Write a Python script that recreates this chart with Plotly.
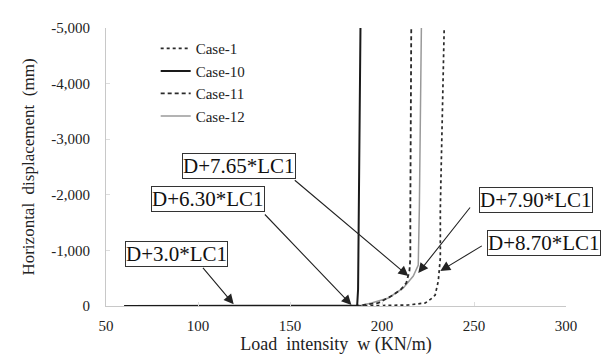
import plotly.graph_objects as go

# ---- data ----
case1_w = [60, 100, 150, 187.2, 214.3, 223.5, 227.3, 228.9, 230.6, 231.7, 231.7, 233.8]
case1_d = [0, 0, 0, 0, -18, -54, -144, -198, -450, -864, -1763, -5000]

case10_w = [60, 100, 150, 184.5, 186.5, 187.0, 187.6, 188.3]
case10_d = [0, 0, 0, 0, -10, -300, -2000, -5000]

case11_w = [60, 100, 150, 184.5, 189.9, 198.0, 205.1, 210.0, 213.2, 214.9, 215.4, 215.4, 215.9]
case11_d = [0, 0, 0, 0, -18, -54, -180, -288, -414, -630, -864, -1763, -5000]

case12_w = [60, 100, 150, 187.2, 194.3, 203.5, 211.6, 217.0, 219.7, 220.3, 221.4]
case12_d = [0, 0, 0, 0, -54, -144, -324, -540, -738, -1763, -5000]

x_ticks = [50, 100, 150, 200, 250, 300]
y_ticks = [0, -1000, -2000, -3000, -4000, -5000]
y_tick_labels = ["0", "-1,000", "-2,000", "-3,000", "-4,000", "-5,000"]

labels = ["D+3.0*LC1", "D+6.30*LC1", "D+7.65*LC1", "D+7.90*LC1", "D+8.70*LC1"]
label_w = [88.5, 105.5, 122.5, 283.5, 288.0]
label_d = [-944, -1916, -2519, -1907, -1133]
arrow_w = [119.4, 183.4, 214.3, 219.7, 231.7]
arrow_d = [-30, -18, -540, -594, -630]
arrow_ax = [-32, -88, -115, 53, 43]
arrow_ay = [-38, -92, -97, -67, -26]

FONT = "Liberation Serif, Times New Roman, serif"

fig = go.Figure()
fig.add_trace(go.Scatter(x=case12_w, y=case12_d, mode="lines", name="Case-12", legendrank=4,
                         line=dict(color="#9a9a9a", width=1.5)))
fig.add_trace(go.Scatter(x=case11_w, y=case11_d, mode="lines", name="Case-11", legendrank=3,
                         line=dict(color="#2a2a2a", width=1.8, dash="4px,3px")))
fig.add_trace(go.Scatter(x=case1_w, y=case1_d, mode="lines", name="Case-1", legendrank=1,
                         line=dict(color="#2a2a2a", width=1.7, dash="dot")))
fig.add_trace(go.Scatter(x=case10_w, y=case10_d, mode="lines", name="Case-10", legendrank=2,
                         line=dict(color="#1a1a1a", width=2)))

for t, xw, yd in zip(labels, label_w, label_d):
    fig.add_annotation(x=xw, y=yd, xref="x", yref="y", text=t, showarrow=False,
                       font=dict(family=FONT, size=21, color="#111111"),
                       bordercolor="#333333", borderwidth=1, borderpad=0,
                       bgcolor="white")

for xw, yd, ax, ay in zip(arrow_w, arrow_d, arrow_ax, arrow_ay):
    fig.add_annotation(x=xw, y=yd, xref="x", yref="y", text="", showarrow=True,
                       ax=ax, ay=ay, arrowhead=2, arrowsize=1.8, arrowwidth=1.1,
                       arrowcolor="#222222")

fig.update_layout(
    width=610, height=362,
    margin=dict(l=98, r=52, t=20, b=64),
    paper_bgcolor="white", plot_bgcolor="white",
    font=dict(family=FONT, size=15, color="#222222"),
    showlegend=True,
    legend=dict(x=0.108, y=0.985, xanchor="left", yanchor="top",
                bgcolor="rgba(0,0,0,0)", font=dict(family=FONT, size=15),
                tracegroupgap=0),
)
fig.update_xaxes(range=[50, 300], tickvals=x_ticks, showgrid=False, zeroline=False,
                 showline=True, linecolor="#c8c8c8", linewidth=1,
                 ticks="inside", ticklen=4, tickcolor="#dddddd",
                 ticklabelstandoff=6,
                 title=dict(text="Load\u00a0 intensity\u00a0 w (KN/m)", font=dict(size=18), standoff=4))
fig.update_yaxes(range=[0, -5000], tickvals=y_ticks, ticktext=y_tick_labels,
                 showgrid=False, zeroline=False,
                 showline=True, linecolor="#c8c8c8", linewidth=1,
                 ticks="inside", ticklen=4, tickcolor="#dddddd",
                 ticklabelstandoff=12,
                 title=dict(text="Horizontal\u00a0 displacement\u00a0 (mm)", font=dict(size=17), standoff=12))

fig.write_html("out.html")
